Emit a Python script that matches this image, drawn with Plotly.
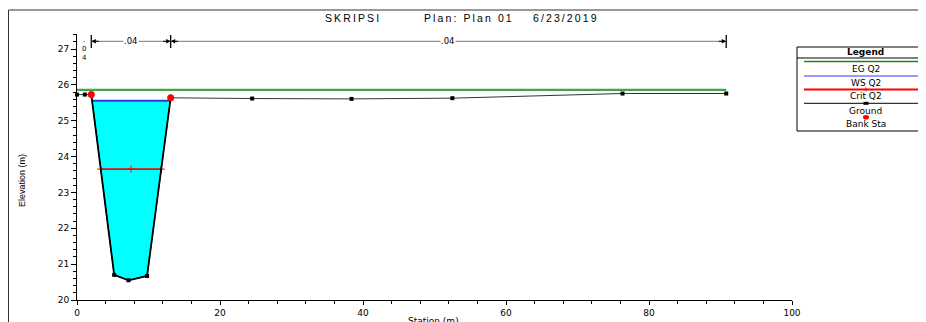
import numpy as np
import plotly.graph_objects as go

# ---------------- data ----------------
station = [0.0, 1.1, 2.0, 5.2, 7.2, 9.8, 13.1, 24.5, 38.4, 52.5, 76.3, 90.8]
ground = [25.73, 25.73, 25.73, 20.70, 20.55, 20.67, 25.64, 25.62, 25.61, 25.63, 25.76, 25.76]
bank_sta = [2.0, 13.1]
ws_q2 = 25.56
eg_q2 = 25.86
crit_q2 = 23.65
manning_n = [".04", ".04", ".04"]
n_breaks = [0.0, 2.0, 13.1, 90.8]
title_parts = ["SKRIPSI", "Plan: Plan 01", "6/23/2019"]
legend_labels = ["EG Q2", "WS Q2", "Crit Q2", "Ground", "Bank Sta"]

# page body has an 8px margin: figure occupies image pixels 8..926, 8..322
OFF = 8
W, H = 926 - OFF, 322 - OFF
PL, PR, PT, PB = 77, 792, 34, 300          # plot area in image pixels
YMIN, YMAX = 20.0, 27.42
FONT = "DejaVu Sans, Verdana, sans-serif"


def xp(px):
    return (px - PL) / (PR - PL)


def yp(py):
    return (PB - py) / (PB - PT)


def ydata(py):
    return YMIN + (PB - py) / (PB - PT) * (YMAX - YMIN)


def crossings(level):
    s = np.array(station)
    g = np.array(ground)
    left = right = None
    for i in range(len(s) - 1):
        if g[i] >= level > g[i + 1] and left is None:
            left = i
        if g[i] < level <= g[i + 1]:
            right = i
    xl = s[left] + (g[left] - level) / (g[left] - g[left + 1]) * (s[left + 1] - s[left])
    xr = s[right] + (level - g[right]) / (g[right + 1] - g[right]) * (s[right + 1] - s[right])
    return xl, xr, left, right


fig = go.Figure()

# water fill
xl, xr, li, ri = crossings(ws_q2)
fx = [xl] + station[li + 1:ri + 1] + [xr, xl]
fy = [ws_q2] + ground[li + 1:ri + 1] + [ws_q2, ws_q2]
fig.add_trace(go.Scatter(x=fx, y=fy, fill="toself", fillcolor="#00ffff",
                         line=dict(width=0), mode="lines", hoverinfo="skip"))

# EG
fig.add_trace(go.Scatter(x=[station[0], station[-1]], y=[eg_q2, eg_q2], mode="lines",
                         line=dict(color="#45a445", width=2.2)))
# WS
fig.add_trace(go.Scatter(x=[xl, xr], y=[ws_q2, ws_q2], mode="lines",
                         line=dict(color="#3535dd", width=2)))
# Crit
cl, cr, _, _ = crossings(crit_q2)
fig.add_trace(go.Scatter(x=[cl, (cl + cr) / 2, cr], y=[crit_q2] * 3, mode="lines+markers",
                         line=dict(color="#ff0000", width=1.6),
                         marker=dict(symbol="cross-thin", size=5, line=dict(color="#ff0000", width=1))))
# Ground (floodplain thin, channel walls heavier)
fig.add_trace(go.Scatter(x=station, y=ground, mode="lines", cliponaxis=False,
                         line=dict(color="#333333", width=1)))
bi0 = station.index(bank_sta[0])
bi1 = station.index(bank_sta[1])
fig.add_trace(go.Scatter(x=station[bi0:bi1 + 1], y=ground[bi0:bi1 + 1], mode="lines",
                         line=dict(color="#000000", width=1.8)))
fig.add_trace(go.Scatter(x=station, y=ground, mode="markers", cliponaxis=False,
                         marker=dict(symbol="square", size=4, color="#000000")))
# Bank stations
bank_el = [float(np.interp(b, station, ground)) for b in bank_sta]
fig.add_trace(go.Scatter(x=bank_sta, y=bank_el, mode="markers", cliponaxis=False,
                         marker=dict(symbol="circle", size=7, color="#ff0000")))

shapes = []
ann = []


def label(x, y, text, size=9, xref="paper", yref="paper", **kw):
    d = dict(x=x, y=y, xref=xref, yref=yref, text=text, showarrow=False,
             font=dict(size=size, color="#000000", family=kw.pop("family", FONT)),
             xanchor=kw.pop("xanchor", "center"), yanchor=kw.pop("yanchor", "middle"), borderpad=0)
    d.update(kw)
    ann.append(d)


# outer border
shapes.append(dict(type="line", xref="paper", yref="paper", x0=xp(8.5), x1=xp(940), y0=yp(10), y1=yp(10),
                   line=dict(color="#333333", width=1)))
shapes.append(dict(type="line", xref="paper", yref="paper", x0=xp(8.5), x1=xp(8.5), y0=yp(10), y1=yp(330),
                   line=dict(color="#333333", width=1)))

# Manning's n brackets
lvl = ydata(41.3)
for b in n_breaks[1:]:
    shapes.append(dict(type="line", xref="x", yref="y", x0=b, x1=b, y0=ydata(35), y1=ydata(48),
                       line=dict(color="#000000", width=1.3)))
for i in range(1, len(n_breaks) - 1):
    a, b = n_breaks[i], n_breaks[i + 1]
    shapes.append(dict(type="line", xref="x", yref="y", x0=a, x1=b, y0=lvl, y1=lvl,
                       line=dict(color="#777777", width=1)))
    ann.append(dict(x=b, y=lvl, xref="x", yref="y", ax=-9, ay=0, text="", showarrow=True,
                    arrowhead=2, arrowsize=0.9, arrowwidth=1, arrowcolor="#000000"))
    ann.append(dict(x=a, y=lvl, xref="x", yref="y", ax=9, ay=0, text="", showarrow=True,
                    arrowhead=2, arrowsize=0.9, arrowwidth=1, arrowcolor="#000000"))
    label((a + b) / 2, lvl, manning_n[i], size=8.5, xref="x", yref="y", bgcolor="#ffffff")
# vertical .04 for left overbank (stacked characters in one text)
label((n_breaks[0] + n_breaks[1]) / 2, ydata(49), "<br>".join(manning_n[0]), size=7, xref="x", yref="y")

# title (three parts, letter-spaced)
thin = "\u2009"
for part, px in zip(title_parts, [324, 423, 532]):
    label(xp(px), yp(18), thin.join(part), size=10.5, family="Liberation Sans, Arial", xanchor="left")

# axis titles
label(xp(22), yp(181), "Elevation (m)", size=9, textangle=-90,
      family="Liberation Sans Narrow, Liberation Sans, Arial")
label(xp(433), yp(321), "Station (m)", size=9)

# legend box
bx0, bx1, by0, by1 = 797, 940, 47, 131
shapes.append(dict(type="rect", xref="paper", yref="paper", x0=xp(bx0), x1=xp(bx1), y0=yp(by0), y1=yp(by1),
                   line=dict(color="#000000", width=1), fillcolor="#ffffff"))
shapes.append(dict(type="line", xref="paper", yref="paper", x0=xp(bx0), x1=xp(bx1), y0=yp(58), y1=yp(58),
                   line=dict(color="#000000", width=1)))
cx = 866
label(xp(cx), yp(52.3), "<b>Legend</b>", size=9)
leg_lines = [(61.5, "#1f801f", 1.5), (76, "#3535ff", 1.2), (89.5, "#ff0000", 2.2), (103.3, "#000000", 1)]
for py, col, w in leg_lines:
    shapes.append(dict(type="line", xref="paper", yref="paper", x0=xp(804), x1=xp(940), y0=yp(py), y1=yp(py),
                       line=dict(color=col, width=w)))
for txt, py in zip(legend_labels, [69, 82.7, 96, 111, 124]):
    label(xp(cx), yp(py), txt, size=9)
# legend markers
shapes.append(dict(type="rect", xref="paper", yref="paper", x0=xp(cx - 2.5), x1=xp(cx + 2.5),
                   y0=yp(101.8), y1=yp(104.8), line=dict(width=0), fillcolor="#000000"))
shapes.append(dict(type="line", xref="paper", yref="paper", x0=xp(cx), x1=xp(cx), y0=yp(87.5), y1=yp(91.5),
                   line=dict(color="#ff0000", width=1)))
shapes.append(dict(type="circle", xref="paper", yref="paper", x0=xp(cx - 3), x1=xp(cx + 3),
                   y0=yp(115), y1=yp(119.6), line=dict(width=0), fillcolor="#ff0000"))

fig.update_layout(
    width=W, height=H,
    margin=dict(l=PL - OFF, r=W - (PR - OFF), t=PT - OFF, b=H - (PB - OFF), autoexpand=False),
    paper_bgcolor="#ffffff", plot_bgcolor="#ffffff", showlegend=False,
    font=dict(family=FONT, size=9, color="#000000"),
    shapes=shapes, annotations=ann,
    xaxis=dict(range=[0, 100], dtick=20, tick0=0, showgrid=False, zeroline=False, showline=True,
               linecolor="#000000", linewidth=1, ticks="outside", ticklen=4, tickcolor="#000000",
               tickfont=dict(size=9), minor=dict(dtick=4, ticks="outside", ticklen=2.5, tickcolor="#000000")),
    yaxis=dict(range=[YMIN, YMAX], dtick=1, tick0=20, showgrid=False, zeroline=False, showline=True,
               linecolor="#000000", linewidth=1, ticks="outside", ticklen=5, tickcolor="#000000",
               tickfont=dict(size=9), minor=dict(dtick=0.2, ticks="outside", ticklen=3, tickcolor="#000000")),
)

fig.write_html("out.html")
